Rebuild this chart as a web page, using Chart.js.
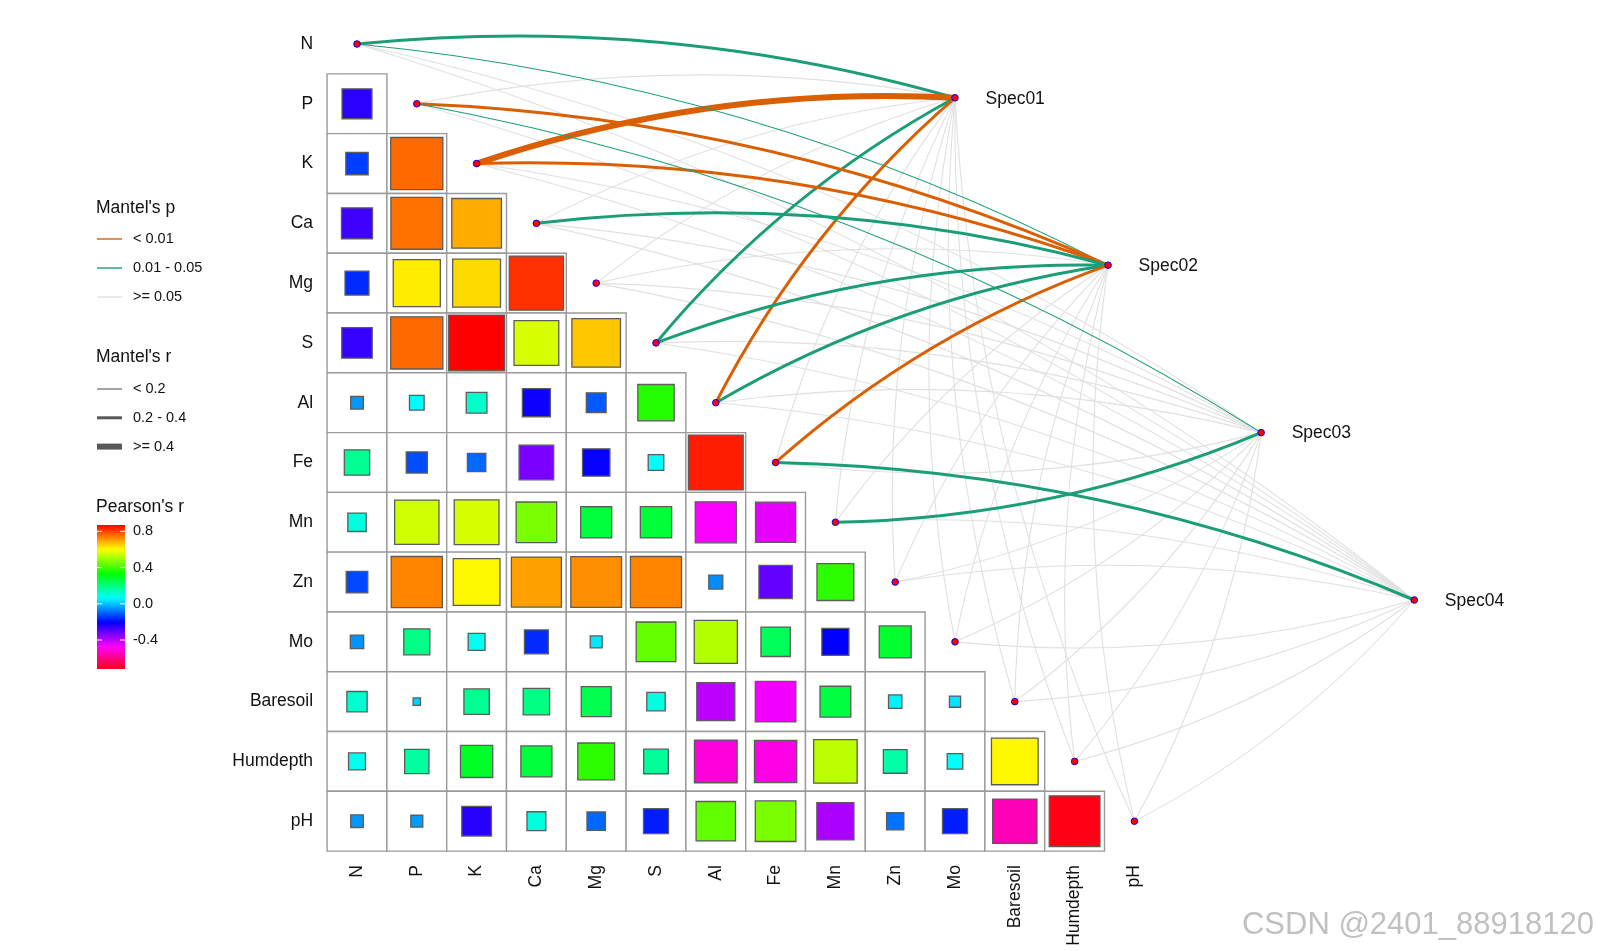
<!DOCTYPE html>
<html>
<head>
<meta charset="utf-8">
<title>Mantel test + correlation</title>
<script src="https://cdn.jsdelivr.net/npm/chart.js@4.4.0/dist/chart.umd.min.js"></script>
<style>
  html, body { margin: 0; padding: 0; background: #fff; }
  #wrap { width: 1597px; height: 951px; position: relative; }
</style>
</head>
<body>
<div id="wrap"><canvas id="myChart"></canvas></div>
<script>
// variables of the correlation matrix
const envNames = ['N', 'P', 'K', 'Ca', 'Mg', 'S', 'Al', 'Fe', 'Mn', 'Zn', 'Mo', 'Baresoil', 'Humdepth', 'pH']
const specNames = ['Spec01', 'Spec02', 'Spec03', 'Spec04']

// Pearson's r, lower triangle (row i -> columns 0..i-1)
const corP = [-0.25]
const corK = [-0.14, 0.76]
const corCa = [-0.27, 0.75, 0.69]
const corMg = [-0.16, 0.62, 0.64, 0.82]
const corS = [-0.26, 0.76, 0.87, 0.56, 0.66]
const corAl = [-0.045, 0.06, 0.12, -0.22, -0.11, 0.37]
const corFe = [0.18, -0.125, -0.095, -0.335, -0.21, 0.068, 0.84]
const corMn = [0.095, 0.55, 0.56, 0.46, 0.27, 0.275, -0.47, -0.45]
const corZn = [-0.13, 0.73, 0.61, 0.70, 0.72, 0.73, -0.055, -0.31, 0.38]
const corMo = [-0.05, 0.19, 0.08, -0.16, 0.04, 0.44, 0.52, 0.24, -0.205, 0.285]
const corBaresoil = [0.115, 0.015, 0.18, 0.195, 0.25, 0.095, -0.405, -0.46, 0.265, 0.05, 0.035]
const corHumdepth = [0.08, 0.165, 0.29, 0.27, 0.38, 0.17, -0.51, -0.50, 0.53, 0.157, 0.068, 0.61]
const corPH = [-0.044, -0.04, -0.245, 0.10, -0.095, -0.175, 0.435, 0.46, -0.385, -0.083, -0.175, -0.55, -0.72]

// Mantel test classes, one entry per env variable
// p: 0 = '< 0.01', 1 = '0.01 - 0.05', 2 = '>= 0.05'
// r: 0 = '< 0.2', 1 = '0.2 - 0.4', 2 = '>= 0.4'
const spec01P = [1, 2, 0, 2, 2, 1, 0, 2, 2, 2, 2, 2, 2, 2]
const spec01R = [1, 0, 2, 0, 0, 1, 1, 0, 0, 0, 0, 0, 0, 0]
const spec02P = [1, 0, 0, 1, 2, 1, 1, 0, 2, 2, 2, 2, 2, 2]
const spec02R = [0, 1, 1, 1, 0, 1, 1, 1, 0, 0, 0, 0, 0, 0]
const spec03P = [2, 1, 2, 2, 2, 2, 2, 2, 1, 2, 2, 2, 2, 2]
const spec03R = [0, 0, 0, 0, 0, 0, 0, 0, 1, 0, 0, 0, 0, 0]
const spec04P = [2, 2, 2, 2, 2, 2, 2, 1, 2, 2, 2, 2, 2, 2]
const spec04R = [0, 0, 0, 0, 0, 0, 0, 1, 0, 0, 0, 0, 0, 0]

const pLabels = ['< 0.01', '0.01 - 0.05', '>= 0.05']
const rLabels = ['< 0.2', '0.2 - 0.4', '>= 0.4']
const colorTicks = [0.8, 0.4, 0.0, -0.4]

// ---- derived stuff ----
const fam = "'Liberation Sans', Arial, sans-serif"
Chart.defaults.font.family = fam

const corRows = [[], corP, corK, corCa, corMg, corS, corAl, corFe, corMn, corZn, corMo, corBaresoil, corHumdepth, corPH]
const specP = [spec01P, spec02P, spec03P, spec04P]
const specR = [spec01R, spec02R, spec03R, spec04R]

const allR = corRows.flat()
const rMax = Math.max(...allR)
const rMin = Math.min(...allR)

// rainbow: red at the top of the range, round the hue circle to pink-red at the bottom
const hueOf = r => (rMax - r) / (rMax - rMin) * 355
const colorOf = r => `hsl(${hueOf(r).toFixed(1)}, 100%, 50%)`

const linkColors = ['#D95F02', '#1B9E77', '#E0E0E0']
const linkWidths = [1.1, 3, 6]

// spec nodes sit on a diagonal to the right of the matrix
const specX = k => 10 + 2.56 * k
const specY = k => 0.9 + 2.8 * k
const midRow = (envNames.length - 1) / 2

const cells = []
const squares = []
corRows.forEach((row, i) => {
    row.forEach((r, j) => {
        cells.push({x: j, y: i})
        squares.push({x: j, y: i, r: r})
    })
})
const nodes = envNames.map((n, i) => ({x: i, y: i}))
specNames.forEach((s, k) => nodes.push({x: specX(k), y: specY(k)}))

const cellPx = chart => Math.abs(chart.scales.x.getPixelForValue(1) - chart.scales.x.getPixelForValue(0))

const linkPlugin = {
    id: 'links',
    afterDatasetDraw(chart, args) {
        if (chart.data.datasets[args.index].label !== 'squares') return
        const c = chart.ctx
        const xs = chart.scales.x
        const ys = chart.scales.y
        c.save()
        c.lineCap = 'round'
        // grey ones first, coloured ones on top
        for (let pass = 0; pass < 2; pass++) {
            specNames.forEach((s, k) => {
                envNames.forEach((e, i) => {
                    const p = specP[k][i]
                    const r = specR[k][i]
                    if ((pass === 0) !== (p === 2)) return
                    const x0 = xs.getPixelForValue(i), y0 = ys.getPixelForValue(i)
                    const x1 = xs.getPixelForValue(specX(k)), y1 = ys.getPixelForValue(specY(k))
                    const dx = x1 - x0, dy = y1 - y0
                    const L = Math.hypot(dx, dy)
                    const sign = (specY(k) >= midRow && i > specY(k)) ? -1 : 1
                    const cx = (x0 + x1) / 2 + sign * (dy / L) * 0.096 * L
                    const cy = (y0 + y1) / 2 + sign * (-dx / L) * 0.096 * L
                    c.strokeStyle = linkColors[p]
                    c.lineWidth = linkWidths[r]
                    c.beginPath()
                    c.moveTo(x0, y0)
                    c.quadraticCurveTo(cx, cy, x1, y1)
                    c.stroke()
                })
            })
        }
        c.restore()
    }
}

const legendPlugin = {
    id: 'sideLegend',
    afterDraw(chart) {
        const c = chart.ctx
        const xs = chart.scales.x
        const ys = chart.scales.y
        c.save()
        c.textBaseline = 'middle'
        c.textAlign = 'left'
        c.fillStyle = '#111'

        // spec labels
        c.font = `17.5px ${fam}`
        specNames.forEach((s, k) => {
            c.fillText(s, xs.getPixelForValue(specX(k)) + 30.5, ys.getPixelForValue(specY(k)) + 1)
        })

        // Mantel's p
        c.fillText("Mantel's p", 96, 208)
        c.font = `14.5px ${fam}`
        pLabels.forEach((lab, i) => {
            const y = 239 + i * 29
            c.strokeStyle = linkColors[i]
            c.lineWidth = 1.4
            c.beginPath(); c.moveTo(97, y); c.lineTo(122, y); c.stroke()
            c.fillText(lab, 133, y)
        })

        // Mantel's r
        c.font = `17.5px ${fam}`
        c.fillText("Mantel's r", 96, 357)
        c.font = `14.5px ${fam}`
        rLabels.forEach((lab, i) => {
            const y = 389 + i * 28.8
            c.strokeStyle = '#595959'
            c.lineWidth = linkWidths[i]
            c.beginPath(); c.moveTo(97, y); c.lineTo(122, y); c.stroke()
            c.fillText(lab, 133, y)
        })

        // Pearson's r colour bar
        c.font = `17.5px ${fam}`
        c.fillText("Pearson's r", 96, 507)
        const bx = 97, bw = 28, by = 525, bh = 144
        const grad = c.createLinearGradient(0, by, 0, by + bh)
        for (let t = 0; t <= 1.0001; t += 0.02) {
            grad.addColorStop(Math.min(t, 1), colorOf(rMax - t * (rMax - rMin)))
        }
        c.fillStyle = grad
        c.fillRect(bx, by, bw, bh)
        c.font = `14.5px ${fam}`
        colorTicks.forEach(v => {
            const y = by + (rMax - v) / (rMax - rMin) * bh
            c.strokeStyle = '#fff'
            c.lineWidth = 1
            c.beginPath()
            c.moveTo(bx, y); c.lineTo(bx + 5, y)
            c.moveTo(bx + bw - 5, y); c.lineTo(bx + bw, y)
            c.stroke()
            c.fillStyle = '#111'
            c.fillText(v.toFixed(1), 133, y)
        })

        // watermark
        c.font = `31px ${fam}`
        c.textAlign = 'right'
        c.fillStyle = 'rgba(150,150,150,0.6)'
        c.fillText('CSDN @2401_88918120', 1594, 925)
        c.restore()
    }
}

const ctx = document.getElementById('myChart').getContext('2d')
const chart = new Chart(ctx, {
    type: 'scatter',
    data: {
        datasets: [
            {
                label: 'cells',
                data: cells,
                order: 3,
                clip: false,
                pointStyle: 'rect',
                pointRadius: c => cellPx(c.chart) / Math.SQRT2,
                backgroundColor: '#ffffff',
                borderColor: '#9a9a9a',
                borderWidth: 1.4
            },
            {
                label: 'squares',
                data: squares,
                order: 2,
                clip: false,
                pointStyle: 'rect',
                pointRadius: c => Math.sqrt(Math.abs(c.raw.r)) * cellPx(c.chart) / Math.SQRT2,
                backgroundColor: c => colorOf(c.raw.r),
                borderColor: '#5c5c5c',
                borderWidth: 1.3
            },
            {
                label: 'nodes',
                data: nodes,
                order: 1,
                clip: false,
                pointStyle: 'circle',
                pointRadius: 3.3,
                backgroundColor: '#ff0000',
                borderColor: '#0000ff',
                borderWidth: 1
            }
        ]
    },
    options: {
        responsive: true,
        maintainAspectRatio: false,
        animation: false,
        events: [],
        layout: { padding: { left: 0, right: 14.1, top: 14.1, bottom: 0 } },
        plugins: { legend: { display: false }, tooltip: { enabled: false } },
        scales: {
            x: {
                type: 'linear',
                min: -0.5,
                max: 20.5,
                grid: { display: false, drawTicks: false },
                border: { display: false },
                afterBuildTicks: s => { s.ticks = envNames.map((n, i) => ({value: i})) },
                afterFit: s => { s.height = 99.9; s.paddingLeft = 0; s.paddingRight = 0 },
                ticks: {
                    autoSkip: false,
                    minRotation: 90,
                    maxRotation: 90,
                    padding: 14,
                    color: '#111',
                    font: { size: 17.5 },
                    callback: v => envNames[v]
                }
            },
            y: {
                type: 'linear',
                reverse: true,
                min: -0.5,
                max: 13.5,
                grid: { display: false, drawTicks: false },
                border: { display: false },
                afterBuildTicks: s => { s.ticks = envNames.map((n, i) => ({value: i})) },
                afterFit: s => { s.width = 327.1; s.paddingTop = 0; s.paddingBottom = 0 },
                ticks: {
                    autoSkip: false,
                    padding: 14,
                    color: '#111',
                    font: { size: 17.5 },
                    callback: v => envNames[v]
                }
            }
        }
    },
    plugins: [linkPlugin, legendPlugin]
})
</script>
</body>
</html>
